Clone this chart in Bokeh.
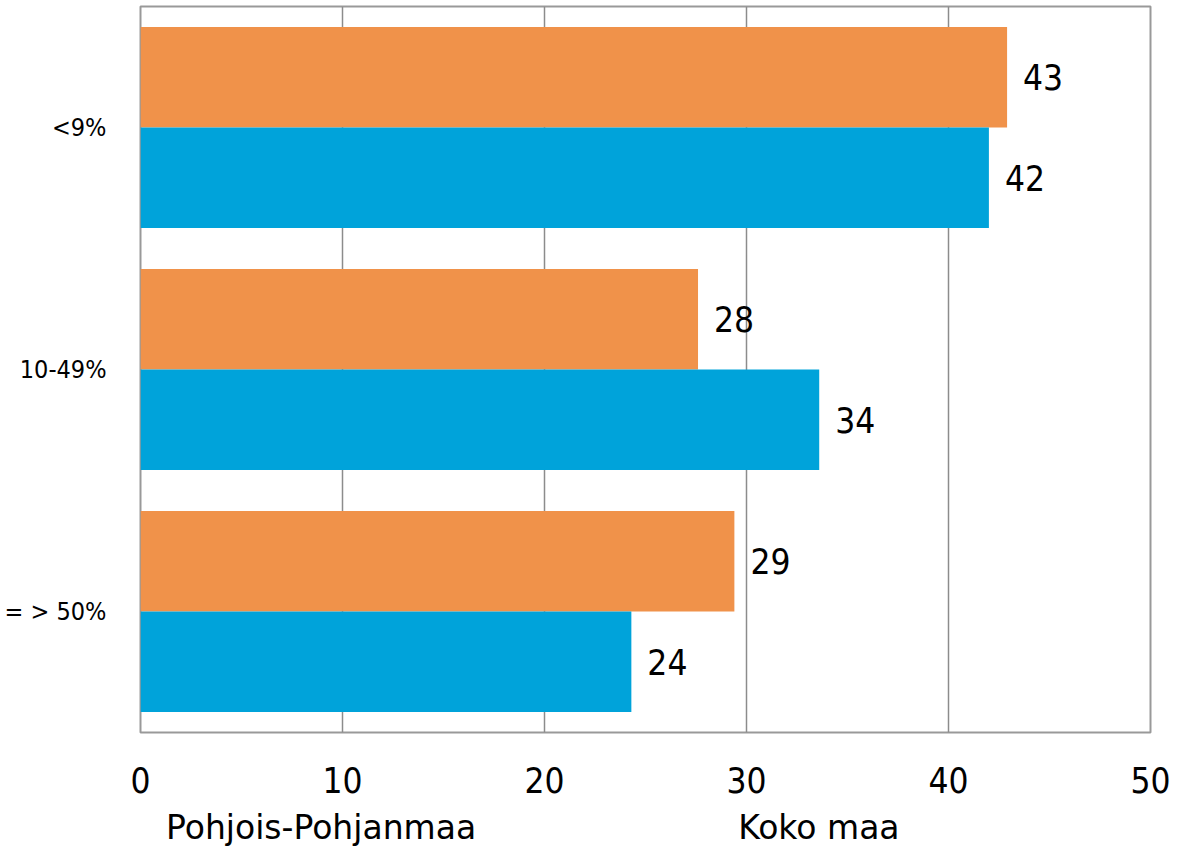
from bokeh.plotting import figure
from bokeh.layouts import column
from bokeh.models import ColumnDataSource, Legend, LegendItem, FactorRange, Range1d, FixedTicker
from bokeh.transform import dodge
from bokeh.embed import file_html
from bokeh.resources import INLINE

categories = ["<9%", "10-49%", "= > 50%"]
pohjois = [42.9, 27.6, 29.4]
koko = [42.0, 33.6, 24.3]
series_names = ["Pohjois-Pohjanmaa", "Koko maa"]
x_ticks = [0, 10, 20, 30, 40, 50]

FONT = "DejaVu Sans Condensed"
ORANGE = "#F0924A"
BLUE = "#00A3DA"

src = ColumnDataSource(dict(
    cat=categories,
    p=pohjois,
    k=koko,
    pl=[str(int(round(v))) for v in pohjois],
    kl=[str(int(round(v))) for v in koko],
))

p = figure(frame_width=1010, frame_height=726,
           y_range=FactorRange(*categories[::-1], range_padding=0),
           x_range=Range1d(0, 50),
           output_backend="svg", toolbar_location=None,
           min_border_left=140, min_border_right=22, min_border_top=6,
           min_border_bottom=0)

p.outline_line_color = "#999999"
p.outline_line_width = 2

h = 0.415
r1 = p.hbar(y=dodge("cat", 0.2075, range=p.y_range), right="p", left=0, height=h,
            source=src, fill_color=ORANGE, line_color=None)
r2 = p.hbar(y=dodge("cat", -0.2075, range=p.y_range), right="k", left=0, height=h,
            source=src, fill_color=BLUE, line_color=None)

p.text(x="p", y=dodge("cat", 0.2075, range=p.y_range), text="pl", source=src,
       x_offset=16, text_align="left", text_baseline="middle",
       text_font_size="35px", text_font={"value": FONT}, text_color="#000000")
p.text(x="k", y=dodge("cat", -0.2075, range=p.y_range), text="kl", source=src,
       x_offset=16, text_align="left", text_baseline="middle",
       text_font_size="35px", text_font={"value": FONT}, text_color="#000000")

p.xaxis.ticker = FixedTicker(ticks=x_ticks)
p.xaxis.axis_line_color = None
p.xaxis.major_tick_line_color = None
p.xaxis.minor_tick_line_color = None
p.xaxis.major_label_text_font = FONT
p.xaxis.major_label_text_font_size = "35px"
p.xaxis.major_label_text_color = "#000000"
p.xaxis.major_label_standoff = 28

p.yaxis.axis_line_color = None
p.yaxis.major_tick_line_color = None
p.yaxis.major_label_text_font = FONT
p.yaxis.major_label_text_font_size = "25px"
p.yaxis.major_label_text_color = "#000000"
p.yaxis.major_label_standoff = 28

p.xgrid.grid_line_color = "#8c8c8c"
p.xgrid.grid_line_width = 1.5
p.xgrid.ticker = FixedTicker(ticks=x_ticks)
p.ygrid.grid_line_color = None

# Legend strip as a separate, axis-less figure below the chart
p2 = figure(width=1172, height=52, x_range=Range1d(0, 1), y_range=Range1d(0, 1),
            x_axis_type=None, y_axis_type=None,
            output_backend="svg", toolbar_location=None,
            min_border=0, min_border_left=0, min_border_right=0,
            min_border_top=0, min_border_bottom=0)
p2.outline_line_color = None
p2.xgrid.grid_line_color = None
p2.ygrid.grid_line_color = None
empty = ColumnDataSource(dict(l=[], r=[], b=[], t=[]))
l1 = p2.quad(left="l", right="r", bottom="b", top="t", source=empty,
             fill_color=ORANGE, line_color=None)
l2 = p2.quad(left="l", right="r", bottom="b", top="t", source=empty,
             fill_color=BLUE, line_color=None)

legend = Legend(items=[LegendItem(label=series_names[0], renderers=[l1]),
                       LegendItem(label=series_names[1], renderers=[l2])],
                orientation="horizontal", location=(0, 0),
                glyph_width=20, glyph_height=20, label_standoff=6,
                label_text_font="DejaVu Sans", label_text_font_size="33px",
                label_text_color="#000000",
                spacing=236, padding=0, margin=0,
                border_line_color=None, background_fill_alpha=0)
p2.add_layout(legend, "center")

layout = column(p, p2, spacing=0)
open("out.html", "w").write(file_html(layout, INLINE))
